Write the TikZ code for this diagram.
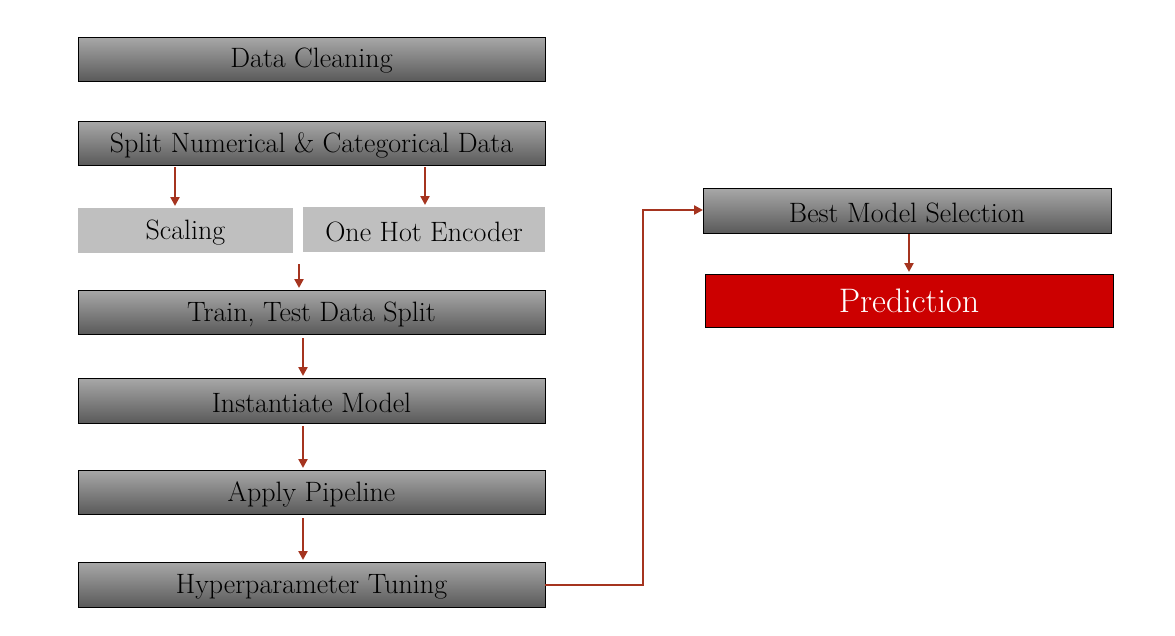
\documentclass[tikz,border=0pt]{standalone}
\usetikzlibrary{arrows.meta}
\definecolor{arr}{HTML}{A5341F}
\definecolor{gtop}{HTML}{A8A8A8}
\definecolor{gbot}{HTML}{5A5A5A}
\definecolor{lgray}{HTML}{BFBFBF}
\definecolor{pred}{HTML}{CC0000}
\tikzset{
  gbox/.style={draw=black, line width=0.9pt, top color=gtop, bottom color=gbot},
  lbox/.style={fill=lgray},
  rbox/.style={draw=black, line width=0.9pt, fill=pred},
  lbl/.style={font=\fontsize{28}{32}\selectfont, inner sep=0pt, yshift=-2pt},
  plbl/.style={font=\fontsize{34}{40}\selectfont, text=white, inner sep=0pt},
  flow/.style={draw=arr, line width=2.8pt, -{Triangle[length=9pt,width=9pt]}},
}
\begin{document}
\begin{tikzpicture}[x=1pt,y=-1pt]
\useasboundingbox (0,0) rectangle (1175,635);
\path[gbox] (78,37) rectangle (545,81) node[midway] (dc) {};
\node[lbl] at (dc) {Data Cleaning};
\path[gbox] (78,121) rectangle (545,165) node[midway] (sp) {};
\node[lbl] at (sp) {Split Numerical \& Categorical Data};
\path[lbox] (78,208) rectangle (293,253) node[midway] (sc) {};
\node[lbl] at (sc) {Scaling};
\path[lbox] (303,207) rectangle (545,252) node[midway] (oh) {};
\node[lbl] at (oh) {One Hot Encoder};
\path[gbox] (78,290) rectangle (545,334) node[midway] (tt) {};
\node[lbl] at (tt) {Train, Test Data Split};
\path[gbox] (78,378) rectangle (545,423) node[midway] (im) {};
\node[lbl] at (im) {Instantiate Model};
\path[gbox] (78,470) rectangle (545,514) node[midway] (ap) {};
\node[lbl] at (ap) {Apply Pipeline};
\path[gbox] (78,562) rectangle (545,607) node[midway] (hp) {};
\node[lbl] at (hp) {Hyperparameter Tuning};
\path[gbox] (703,188) rectangle (1111,233) node[midway] (bm) {};
\node[lbl] at (bm) {Best Model Selection};
\path[rbox] (705,274) rectangle (1113,327) node[midway] (pr) {};
\node[plbl] at (pr) {Prediction};
\coordinate (a1s) at (175,167); \coordinate (a1e) at (175,206);
\coordinate (a2s) at (425,167); \coordinate (a2e) at (425,205);
\coordinate (a3s) at (299,264); \coordinate (a3e) at (299,288);
\coordinate (a4s) at (303,338); \coordinate (a4e) at (303,376);
\coordinate (a5s) at (303,426); \coordinate (a5e) at (303,468);
\coordinate (a6s) at (303,518); \coordinate (a6e) at (303,560);
\coordinate (hpr) at (545,585); \coordinate (bml) at (703,210);
\coordinate (a8s) at (909,234); \coordinate (a8e) at (909,272);
\draw[flow] (a1s) -- (a1e);
\draw[flow] (a2s) -- (a2e);
\draw[flow] (a3s) -- (a3e);
\draw[flow] (a4s) -- (a4e);
\draw[flow] (a5s) -- (a5e);
\draw[flow] (a6s) -- (a6e);
\draw[flow] (hpr) -- (643,585) -- (643,210) -- (bml);
\draw[flow] (a8s) -- (a8e);
\end{tikzpicture}
\end{document}
